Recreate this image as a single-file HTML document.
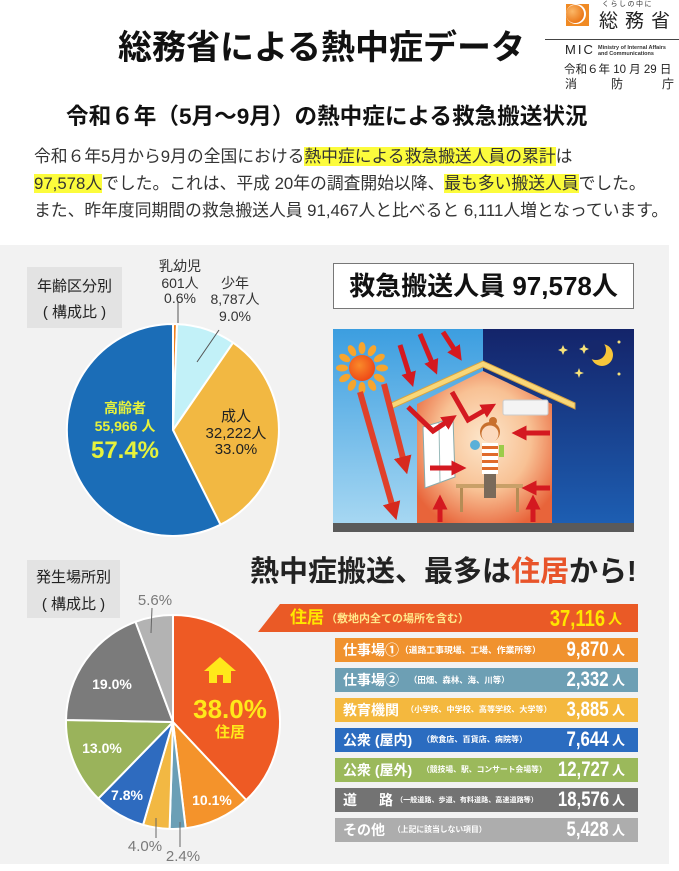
<!DOCTYPE html>
<html><head><meta charset="utf-8">
<style>
*{margin:0;padding:0;box-sizing:border-box}
body{width:679px;height:871px;overflow:hidden;background:#fff;position:relative;font-family:"Liberation Sans","Noto Sans CJK JP",sans-serif;color:#222}
.a{position:absolute;white-space:nowrap}
.hl{background:#fcfc3c}
.c{text-align:center}
.bt{position:absolute;white-space:nowrap;color:#fff;font-weight:bold;font-size:14px;line-height:18px}
.bp{position:absolute;white-space:nowrap;color:#fff;font-weight:bold;line-height:10px}
.bn{position:absolute;white-space:nowrap;color:#fff;font-weight:bold;font-size:21px;line-height:24px;right:70px;transform:scaleX(0.8);transform-origin:right center}
.bu{position:absolute;white-space:nowrap;color:#fff;font-weight:bold;font-size:13px;line-height:16px;left:612px}
.pl{position:absolute;white-space:nowrap;text-align:center;font-size:14px;line-height:16px;color:#333}
.wl{position:absolute;white-space:nowrap;text-align:center;font-size:14px;line-height:16px;color:#fff;font-weight:bold}
.gl{position:absolute;white-space:nowrap;text-align:center;font-size:15px;line-height:16px;color:#7a7a7a}
</style></head><body>

<svg class="a" style="left:0;top:0" width="679" height="871" viewBox="0 0 679 871">
<defs>
<linearGradient id="sky" x1="0" y1="0" x2="0" y2="1"><stop offset="0" stop-color="#3c9ee0"/><stop offset="1" stop-color="#a6d7f2"/></linearGradient>
<linearGradient id="night" x1="0" y1="0" x2="0" y2="1"><stop offset="0" stop-color="#14246a"/><stop offset="1" stop-color="#1d5eb2"/></linearGradient>
<radialGradient id="wall" cx="0.5" cy="0.45" r="0.62"><stop offset="0" stop-color="#fde7cc"/><stop offset="0.55" stop-color="#f8c194"/><stop offset="1" stop-color="#e8643a"/></radialGradient>
<radialGradient id="sun" cx="0.4" cy="0.4" r="0.6"><stop offset="0" stop-color="#f98a2a"/><stop offset="1" stop-color="#ef4b17"/></radialGradient>
<radialGradient id="ball" cx="0.35" cy="0.35" r="0.7"><stop offset="0" stop-color="#fbb868"/><stop offset="1" stop-color="#ea7414"/></radialGradient>
<marker id="ah" viewBox="0 0 10 10" refX="3" refY="5" markerWidth="3" markerHeight="3" orient="auto"><path d="M0,0 L10,5 L0,10 z" fill="#d41920"/></marker>
<marker id="ah2" viewBox="0 0 10 10" refX="3" refY="5" markerWidth="3" markerHeight="3" orient="auto"><path d="M0,0 L10,5 L0,10 z" fill="#d62a1e"/></marker>
</defs>

<rect x="566" y="4" width="23" height="22" fill="#f08a24"/>
<circle cx="576" cy="14" r="10" fill="#fff"/>
<circle cx="575" cy="14" r="9" fill="url(#ball)"/>
<line x1="545" y1="39.5" x2="679" y2="39.5" stroke="#444" stroke-width="1"/>

<rect x="0" y="245" width="669" height="619" fill="#f2f2f2"/>
<rect x="27" y="267" width="95" height="61" fill="#e3e3e3"/>
<rect x="27" y="560" width="93" height="58" fill="#e3e3e3"/>

<g stroke="#fff" stroke-width="2" stroke-linejoin="round">
<path d="M173,430 L173,324 A106,106 0 0 1 177.0,324.1 Z" fill="#f0821e"/>
<path d="M173,430 L177.0,324.1 A106,106 0 0 1 233.1,342.7 Z" fill="#c2f1f8"/>
<path d="M173,430 L233.1,342.7 A106,106 0 0 1 220.5,524.7 Z" fill="#f2b842"/>
<path d="M173,430 L220.5,524.7 A106,106 0 1 1 173,324 Z" fill="#1b6db7"/>
</g>
<line x1="178" y1="302" x2="178" y2="323" stroke="#555" stroke-width="1"/>
<line x1="219" y1="330" x2="197" y2="362" stroke="#555" stroke-width="1"/>

<rect x="333.5" y="263.5" width="300" height="45" fill="#fff" stroke="#777" stroke-width="1"/>

<rect x="333" y="329" width="150" height="194" fill="url(#sky)"/>
<rect x="483" y="329" width="151" height="194" fill="url(#night)"/>
<polygon points="417,404 483,371 552,404 552,523 417,523" fill="url(#wall)"/>
<polygon points="391,403 483,361 575,403 575,409 483,367 391,409" fill="#f8d778" stroke="#d9a441" stroke-width="1"/>
<rect x="333" y="523" width="301" height="9" fill="#5a5a5a"/>
<g transform="translate(362,368)" fill="#f7a52e">
<ellipse cx="0" cy="-20" rx="3.5" ry="6"/>
<ellipse cx="0" cy="-20" rx="3.5" ry="6" transform="rotate(30)"/>
<ellipse cx="0" cy="-20" rx="3.5" ry="6" transform="rotate(60)"/>
<ellipse cx="0" cy="-20" rx="3.5" ry="6" transform="rotate(90)"/>
<ellipse cx="0" cy="-20" rx="3.5" ry="6" transform="rotate(120)"/>
<ellipse cx="0" cy="-20" rx="3.5" ry="6" transform="rotate(150)"/>
<ellipse cx="0" cy="-20" rx="3.5" ry="6" transform="rotate(180)"/>
<ellipse cx="0" cy="-20" rx="3.5" ry="6" transform="rotate(210)"/>
<ellipse cx="0" cy="-20" rx="3.5" ry="6" transform="rotate(240)"/>
<ellipse cx="0" cy="-20" rx="3.5" ry="6" transform="rotate(270)"/>
<ellipse cx="0" cy="-20" rx="3.5" ry="6" transform="rotate(300)"/>
<ellipse cx="0" cy="-20" rx="3.5" ry="6" transform="rotate(330)"/>
<circle cx="0" cy="0" r="13" fill="url(#sun)"/>
</g>
<circle cx="602" cy="355" r="11" fill="#f7c63a"/>
<circle cx="596" cy="350" r="10" fill="#16286c"/>
<g fill="#f7e27a">
<path d="M563,345 L564.5,348.5 L568,350 L564.5,351.5 L563,355 L561.5,351.5 L558,350 L561.5,348.5Z"/>
<path d="M584,344 L585.5,347.5 L589,349 L585.5,350.5 L584,354 L582.5,350.5 L579,349 L582.5,347.5Z"/>
<path d="M579,368 L580.3,371.7 L584,373 L580.3,374.3 L579,378 L577.7,374.3 L574,373 L577.7,371.7Z"/>
<circle cx="619" cy="342" r="1.5"/><circle cx="619" cy="374" r="1.5"/>
</g>
<polygon points="423,427 453,418 455,477 425,488" fill="#fff" stroke="#8aa" stroke-width="1"/>
<line x1="439" y1="423" x2="440" y2="483" stroke="#9bb" stroke-width="1"/>
<rect x="503" y="400" width="45" height="15" rx="2" fill="#f4f4f4" stroke="#ccc"/>
<rect x="456" y="484" width="67" height="4" fill="#c9a068"/>
<rect x="460" y="488" width="3" height="24" fill="#b58c55"/>
<rect x="516" y="488" width="3" height="24" fill="#b58c55"/>
<circle cx="493" cy="421" r="4" fill="#c8702e"/>
<circle cx="490" cy="432" r="10" fill="#c8702e"/>
<circle cx="490" cy="434" r="8.5" fill="#fcd9bd"/>
<rect x="482" y="443" width="16" height="31" fill="#fff"/>
<rect x="482" y="446" width="16" height="3" fill="#e06a2a"/>
<rect x="482" y="453" width="16" height="3" fill="#e06a2a"/>
<rect x="482" y="460" width="16" height="3" fill="#e06a2a"/>
<rect x="482" y="467" width="16" height="3" fill="#e06a2a"/>
<rect x="484" y="474" width="12" height="24" fill="#7a6a5a"/>
<circle cx="475" cy="445" r="5" fill="#5ab0d8"/>
<rect x="499" y="445" width="5" height="12" fill="#9ccc4a"/>
<g stroke="#e0402a" stroke-width="6" fill="none" marker-end="url(#ah2)">
<line x1="360" y1="392" x2="393" y2="508"/>
<line x1="384" y1="384" x2="404" y2="462"/>
</g>
<g stroke="#d41920" stroke-width="5" fill="none" marker-end="url(#ah)">
<line x1="400" y1="345" x2="410" y2="377"/>
<line x1="420" y1="334" x2="433" y2="365"/>
<line x1="443" y1="332" x2="456" y2="352"/>
<polyline points="408,407 433,431 448,421"/>
<polyline points="452,392 468,420 487,409"/>
<line x1="430" y1="468" x2="456" y2="468"/>
<line x1="550" y1="433" x2="522" y2="433"/>
<line x1="550" y1="488" x2="532" y2="488"/>
<line x1="440" y1="522" x2="440" y2="505"/>
<line x1="533" y1="522" x2="533" y2="505"/>
</g>

<g stroke="#fff" stroke-width="2" stroke-linejoin="round">
<path d="M173,722 L173,615 A107,107 0 0 1 246.2,800.0 Z" fill="#ee5a24"/>
<path d="M173,722 L246.2,800.0 A107,107 0 0 1 185.7,828.2 Z" fill="#f4932b"/>
<path d="M173,722 L185.7,828.2 A107,107 0 0 1 169.6,828.9 Z" fill="#6b9fb6"/>
<path d="M173,722 L169.6,828.9 A107,107 0 0 1 143.1,824.8 Z" fill="#f2b843"/>
<path d="M173,722 L143.1,824.8 A107,107 0 0 1 98.3,798.6 Z" fill="#2e6bbf"/>
<path d="M173,722 L98.3,798.6 A107,107 0 0 1 66.0,720.0 Z" fill="#9ab35b"/>
<path d="M173,722 L66.0,720.0 A107,107 0 0 1 135.5,621.8 Z" fill="#7b7b7b"/>
<path d="M173,722 L135.5,621.8 A107,107 0 0 1 173,615 Z" fill="#b3b3b3"/>
</g>
<g stroke="#666" stroke-width="1">
<line x1="152" y1="608" x2="151" y2="633"/>
<line x1="156" y1="818" x2="156" y2="838"/>
<line x1="180" y1="822" x2="180" y2="847"/>
</g>
<polygon points="204,671 220,657 236,671" fill="#ffe81a"/>
<rect x="209" y="670" width="22" height="13" fill="#ffe81a"/>
<rect x="217" y="675" width="6" height="8" fill="#ee5a24"/>

<polygon points="280,604 638,604 638,632 258,632" fill="#ea5a26"/>
<rect x="335" y="638" width="303" height="24" fill="#f0922e"/>
<rect x="335" y="668" width="303" height="24" fill="#6d9fb4"/>
<rect x="335" y="698" width="303" height="24" fill="#f4b83e"/>
<rect x="335" y="728" width="303" height="24" fill="#2b6cc0"/>
<rect x="335" y="758" width="303" height="24" fill="#9bb95b"/>
<rect x="335" y="788" width="303" height="24" fill="#737373"/>
<rect x="335" y="818" width="303" height="24" fill="#adadad"/>
</svg>

<div class="a" style="left:118px;top:28px;font-size:34px;line-height:40px;font-weight:bold;color:#111">総務省による熱中症データ</div>
<div class="a" style="left:602px;top:1px;font-size:7px;line-height:8px;letter-spacing:1.5px;color:#333">くらしの中に</div>
<div class="a" style="left:599px;top:10px;font-size:19px;line-height:24px;letter-spacing:7px;color:#222">総務省</div>
<div class="a" style="left:565px;top:43px;font-size:13px;line-height:14px;letter-spacing:2px;color:#222">MIC</div>
<div class="a" style="left:598px;top:45px;font-size:5.5px;line-height:6px;font-weight:bold;color:#333">Ministry of Internal Affairs<br>and Communications</div>
<div class="a" style="left:564px;top:63px;font-size:11.5px;line-height:14px;letter-spacing:0;color:#222">令和６年 10 月 29 日</div>
<div class="a" style="left:565px;top:77px;font-size:12px;line-height:14px;color:#222">消</div>
<div class="a" style="left:611px;top:77px;font-size:12px;line-height:14px;color:#222">防</div>
<div class="a" style="left:662px;top:77px;font-size:12px;line-height:14px;color:#222">庁</div>

<div class="a" style="left:66px;top:104px;font-size:22.6px;line-height:26px;font-weight:bold;color:#111">令和６年（5月～9月）の熱中症による救急搬送状況</div>

<div class="a" style="left:34px;top:147px;font-size:16.8px;line-height:20px;color:#333">令和６年5月から9月の全国における<span class="hl">熱中症による救急搬送人員の累計</span>は</div>
<div class="a" style="left:34px;top:174px;font-size:16.8px;line-height:20px;color:#333"><span class="hl">97,578人</span>でした。これは、平成 20年の調査開始以降、<span class="hl">最も多い搬送人員</span>でした。</div>
<div class="a" style="left:34px;top:201px;font-size:16.8px;line-height:20px;color:#333">また、昨年度同期間の救急搬送人員 91,467人と比べると 6,111人増となっています。</div>

<div class="a c" style="left:27px;width:95px;top:278px;font-size:15px;line-height:18px;color:#222">年齢区分別</div>
<div class="a c" style="left:27px;width:95px;top:304px;font-size:15px;line-height:18px;color:#222">( 構成比 )</div>

<div class="pl" style="left:150px;width:60px;top:258px">乳幼児</div>
<div class="pl" style="left:150px;width:60px;top:275px">601人</div>
<div class="pl" style="left:150px;width:60px;top:290px">0.6%</div>
<div class="pl" style="left:200px;width:70px;top:275px">少年</div>
<div class="pl" style="left:200px;width:70px;top:291px">8,787人</div>
<div class="pl" style="left:200px;width:70px;top:308px">9.0%</div>

<div class="a c" style="left:80px;width:90px;top:399px;font-size:14px;line-height:18px;font-weight:bold;color:#e6f23c">高齢者</div>
<div class="a c" style="left:80px;width:90px;top:417px;font-size:14px;line-height:18px;font-weight:bold;color:#e6f23c">55,966 人</div>
<div class="a c" style="left:70px;width:110px;top:436px;font-size:24px;line-height:30px;font-weight:bold;color:#e6f23c">57.4%</div>

<div class="a c" style="left:196px;width:80px;top:408px;font-size:15px;line-height:18px;color:#222">成人</div>
<div class="a c" style="left:196px;width:80px;top:425px;font-size:15px;line-height:18px;color:#222">32,222人</div>
<div class="a c" style="left:196px;width:80px;top:441px;font-size:15px;line-height:18px;color:#222">33.0%</div>

<div class="a c" style="left:333px;width:301px;top:269px;font-size:26px;line-height:34px;font-weight:bold;color:#111">救急搬送人員 97,578人</div>

<div class="a" style="left:250px;top:554px;font-size:29px;line-height:36px;font-weight:bold;color:#222">熱中症搬送、最多は<span style="color:#e8542a">住居</span>から!</div>

<div class="a c" style="left:27px;width:93px;top:569px;font-size:15px;line-height:18px;color:#222">発生場所別</div>
<div class="a c" style="left:27px;width:93px;top:596px;font-size:15px;line-height:18px;color:#222">( 構成比 )</div>

<div class="a c" style="left:180px;width:100px;top:694px;font-size:26px;line-height:30px;font-weight:bold;color:#ffe81a">38.0%</div>
<div class="a c" style="left:180px;width:100px;top:724px;font-size:15px;line-height:18px;font-weight:bold;color:#ffe81a">住居</div>
<div class="wl" style="left:182px;width:60px;top:792px">10.1%</div>
<div class="wl" style="left:97px;width:60px;top:787px">7.8%</div>
<div class="wl" style="left:72px;width:60px;top:740px">13.0%</div>
<div class="wl" style="left:82px;width:60px;top:676px">19.0%</div>
<div class="gl" style="left:125px;width:60px;top:593px">5.6%</div>
<div class="gl" style="left:115px;width:60px;top:839px">4.0%</div>
<div class="gl" style="left:153px;width:60px;top:849px">2.4%</div>

<div class="a" style="left:290px;top:608px;font-size:17px;line-height:20px;font-weight:bold;color:#ffe600">住居</div>
<div class="bp" style="left:326px;top:613px;font-size:11px;line-height:12px;color:#ffe88a">（敷地内全ての場所を含む）</div>
<div class="bn" style="top:605px;right:74px;font-size:23px;line-height:26px;color:#ffe600">37,116</div>
<div class="bu" style="left:608px;top:611px;font-size:14px;color:#ffe600">人</div>

<div class="bt" style="left:343px;top:641px">仕事場①</div>
<div class="bp" style="left:400px;top:645px;font-size:8.8px">（道路工事現場、工場、作業所等）</div>
<div class="bn" style="top:638px">9,870</div>
<div class="bu" style="top:643px">人</div>

<div class="bt" style="left:343px;top:671px">仕事場②</div>
<div class="bp" style="left:409px;top:675px;font-size:8.4px">（田畑、森林、海、川等）</div>
<div class="bn" style="top:668px">2,332</div>
<div class="bu" style="top:673px">人</div>

<div class="bt" style="left:343px;top:701px">教育機関</div>
<div class="bp" style="left:406px;top:705px;font-size:8.1px">（小学校、中学校、高等学校、大学等）</div>
<div class="bn" style="top:698px">3,885</div>
<div class="bu" style="top:703px">人</div>

<div class="bt" style="left:343px;top:731px">公衆 (屋内)</div>
<div class="bp" style="left:422px;top:735px;font-size:8.1px">（飲食店、百貨店、病院等）</div>
<div class="bn" style="top:728px">7,644</div>
<div class="bu" style="top:733px">人</div>

<div class="bt" style="left:343px;top:761px">公衆 (屋外)</div>
<div class="bp" style="left:422px;top:765px;font-size:7.8px">（競技場、駅、コンサート会場等）</div>
<div class="bn" style="top:758px">12,727</div>
<div class="bu" style="top:763px">人</div>

<div class="bt" style="left:343px;top:791px">道</div>
<div class="bt" style="left:379px;top:791px">路</div>
<div class="bp" style="left:396px;top:795px;font-size:7.1px">（一般道路、歩道、有料道路、高速道路等）</div>
<div class="bn" style="top:788px">18,576</div>
<div class="bu" style="top:793px">人</div>

<div class="bt" style="left:343px;top:821px">その他</div>
<div class="bp" style="left:393px;top:825px;font-size:7.8px">（上記に該当しない項目）</div>
<div class="bn" style="top:818px">5,428</div>
<div class="bu" style="top:823px">人</div>

</body></html>
